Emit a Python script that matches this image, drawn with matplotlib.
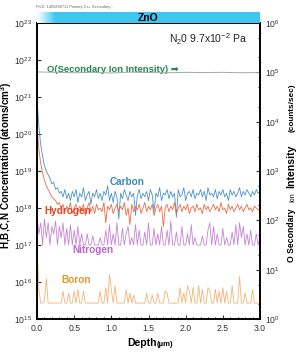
import numpy as np
import matplotlib
matplotlib.use("Agg")
import matplotlib.pyplot as plt
from matplotlib.ticker import MultipleLocator, NullFormatter, LogFormatterSciNotation

plt.rcParams['font.family'] = ['Liberation Sans', 'DejaVu Sans']
plt.rcParams['mathtext.fontset'] = 'custom'
plt.rcParams['mathtext.rm'] = 'Liberation Sans'
plt.rcParams['mathtext.it'] = 'Liberation Sans:italic'
plt.rcParams['mathtext.bf'] = 'Liberation Sans:bold'

# depth grid of the profile (um), 0.025 um sampling step
step = 0.025
depth = np.arange(121) * step

# log10 concentrations (atoms/cm3)
carbon_log = [21.0, 20.2, 19.7, 19.4, 19.15, 19.0, 18.9, 18.8, 18.65, 18.7,
              18.5, 18.55, 18.4, 18.45, 18.3, 18.5, 18.25, 18.4,
              18.2, 18.45, 18.3, 18.5, 18.15, 18.4, 18.3, 18.55, 18.2, 18.35,
              18.45, 18.1, 18.4, 18.3, 18.5, 18.25, 18.4, 18.2, 18.45, 18.35,
              18.6, 18.2, 18.4, 18.15, 18.45, 18.3, 17.7, 18.4, 18.25, 18.5,
              18.35, 18.2, 18.45, 18.3, 18.4, 17.8, 18.35, 18.5, 18.25, 18.4,
              18.3, 18.45, 18.2, 18.5, 18.35, 17.9, 18.4, 18.3, 18.55, 18.2,
              18.4, 18.35, 18.5, 18.25, 18.45, 18.3, 18.4, 17.75, 18.5, 18.3,
              18.35, 18.55, 18.2, 18.4, 18.45, 18.3, 18.5, 18.25, 18.4, 18.35,
              18.5, 18.3, 18.45, 18.2, 18.55, 18.35, 18.4, 18.3, 18.5, 18.25,
              18.45, 18.35, 18.5, 18.3, 18.4, 18.2, 18.5, 18.35, 18.45, 18.3,
              18.4, 18.55, 18.3, 18.45, 18.35, 18.5, 18.4, 18.3, 18.45, 18.35,
              18.5, 18.4, 18.45]
hydrogen_log = [20.2, 19.6, 19.2, 18.95, 18.75, 18.6, 18.5, 18.4, 18.3, 18.25,
                18.2, 18.1, 18.15, 18.0,
                18.1, 17.9, 18.05, 17.95, 18.15, 17.85, 18.0, 18.1, 17.9, 18.05,
                17.95, 18.1, 17.8, 18.0, 18.15, 17.9, 18.05, 17.85, 18.1, 17.95,
                18.0, 17.9, 18.15, 17.6, 18.05, 17.95, 18.1, 17.85, 18.0, 18.1,
                17.9, 18.05, 17.95, 18.15, 17.8, 18.0, 17.55, 18.1, 17.9, 18.05,
                17.95, 18.1, 17.85, 18.0, 18.15, 17.9, 18.05, 17.95, 18.1, 17.8,
                18.0, 18.1, 17.9, 18.05, 17.5, 18.0, 18.1, 17.9, 18.05, 17.95,
                18.15, 17.85, 18.0, 18.1, 17.9, 18.05, 17.95, 18.1, 17.85, 18.0,
                18.05, 17.9, 18.1, 17.95, 18.0, 17.85, 18.1, 17.95, 18.05, 17.9,
                18.0, 18.1, 17.95, 18.05, 17.9, 18.15, 17.95, 18.0, 17.85, 18.1,
                17.95, 18.05, 17.9, 18.0, 18.1, 17.95, 18.05, 17.9, 18.0, 18.1,
                17.95, 18.0, 17.9, 18.05, 18.0, 17.95, 18.0]
nitrogen_log = [17.8, 17.3, 17.6, 17.0, 17.7, 17.2, 17.6, 17.0, 17.5, 17.3,
                17.65, 17.0, 17.5, 17.2, 17.6, 17.0, 17.45, 17.0, 17.55, 17.0,
                17.4, 17.0, 17.5, 17.0, 17.3,
                17.0, 17.0, 17.3, 17.0, 17.0, 17.25, 17.0, 17.0, 17.0, 17.2,
                17.0, 17.0,
                17.4, 17.0, 17.55, 17.0, 17.3, 17.0, 17.6, 17.0, 17.0, 17.45,
                17.0, 17.3, 17.5, 17.0, 17.2, 17.0, 17.55, 17.0, 17.4, 17.0,
                17.0, 17.35, 17.0, 17.6, 17.0, 17.0, 17.45, 17.0, 17.3, 17.0,
                17.5, 17.0, 17.0, 17.4, 17.0, 17.65, 17.0, 17.0, 17.35, 17.0,
                17.0, 17.5, 17.0, 17.0, 17.3, 17.0, 17.55, 17.0, 17.2, 17.0,
                17.0, 17.0, 17.25, 17.0, 17.0, 17.4, 17.6, 17.0, 17.5, 17.0,
                17.3, 17.0, 17.0, 17.45, 17.0, 17.2, 17.0, 17.0, 17.35, 17.0,
                17.55, 17.0, 17.6, 17.2, 17.5, 17.0, 17.3, 17.0, 17.4, 17.0,
                17.0, 17.3, 17.0, 17.2]
boron_log = [17.0, 15.8, 15.43, 15.43, 15.5, 16.1, 15.43, 15.43, 15.43, 15.43,
             15.43, 15.43, 15.43, 15.43, 15.75, 15.43, 15.43, 15.7, 15.43, 15.43,
             15.75, 15.43, 15.8, 15.43, 15.43, 15.75, 15.43, 15.43, 15.43, 15.43,
             15.43, 15.43, 15.43, 15.43, 15.75, 15.43, 15.43, 15.85, 15.43, 16.2,
             15.8, 15.43, 15.9, 15.43, 15.43, 15.43, 15.43, 15.43, 15.8, 15.43,
             15.7, 15.43, 15.65, 15.43, 15.43, 15.43, 15.43, 15.43, 15.43, 15.7,
             15.43, 15.43, 15.65, 15.43, 15.43, 15.7, 15.43, 15.43, 15.43, 15.75,
             15.7, 15.43, 15.43, 15.43, 15.43, 15.43, 15.43, 15.85, 15.43, 15.7,
             15.43, 15.9, 15.75, 15.43, 15.85, 15.43, 15.43, 15.9, 15.43, 15.8,
             15.43, 15.43, 15.85, 15.75, 15.43, 15.43, 15.8, 15.43, 15.75, 15.43,
             15.85, 15.43, 15.75, 15.43, 15.43, 15.9, 15.43, 15.43, 15.43, 16.15,
             15.43, 15.43, 15.7, 15.43, 15.43, 15.43, 15.8, 15.43, 15.43, 15.43,
             15.43]

# O secondary ion intensity (counts/sec)
o_depth = [0.0, 0.25, 0.5, 0.75, 1.0, 1.25, 1.5, 1.75, 2.0, 2.25, 2.5, 2.75, 3.0]
o_counts = [1.02e5, 1.0e5, 0.98e5, 1.0e5, 0.97e5, 1.01e5, 0.99e5, 0.98e5,
            1.0e5, 0.99e5, 1.0e5, 0.98e5, 0.99e5]

left_ticks = [1e15, 1e16, 1e17, 1e18, 1e19, 1e20, 1e21, 1e22, 1e23]
right_ticks = [1e0, 1e1, 1e2, 1e3, 1e4, 1e5, 1e6]

fig = plt.figure(figsize=(2.97, 3.54), dpi=100)
ax = fig.add_axes([0.1246, 0.0989, 0.7508, 0.8361])

ax.plot(depth, 10 ** np.array(boron_log), color='#f5b475', lw=0.6)
ax.plot(depth, 10 ** np.array(nitrogen_log), color='#c684d4', lw=0.6)
ax.plot(depth, 10 ** np.array(carbon_log), color='#4b93c9', lw=0.6)
ax.plot(depth, 10 ** np.array(hydrogen_log), color='#f06a45', lw=0.6)

ax.set_yscale('log')
ax.set_ylim(1e15, 1e23)
ax.set_xlim(0, 3.0)
ax.xaxis.set_major_locator(MultipleLocator(0.5))
ax.xaxis.set_minor_locator(MultipleLocator(0.1))
ax.xaxis.set_major_formatter(plt.FuncFormatter(lambda v, p: f"{v:.1f}"))
ax.set_yticks(left_ticks)
ax.set_yticks([], minor=True)
ax.yaxis.set_major_formatter(LogFormatterSciNotation())
ax.tick_params(labelsize=6.2, length=3, width=0.8, direction='in', colors='#333333')
ax.tick_params(which='minor', length=1.5, width=0.6, direction='in')
for s in ax.spines.values():
    s.set_linewidth(1.2)

ax2 = ax.twinx()
ax2.plot(o_depth, o_counts, color='#a0a8a0', lw=0.7)
ax2.set_yscale('log')
ax2.set_ylim(1, 1e6)
ax2.set_yticks(right_ticks)
ax2.set_yticks([m * t for t in right_ticks[:-1] for m in (2, 5)], minor=True)
ax2.yaxis.set_major_formatter(LogFormatterSciNotation())
ax2.yaxis.set_minor_formatter(NullFormatter())
ax2.tick_params(labelsize=6.2, length=3, width=0.8, direction='in', colors='#333333')
ax2.tick_params(which='minor', length=1.5, width=0.6, direction='in')
for s in ax2.spines.values():
    s.set_linewidth(1.2)

# series labels
ax.text(1.21, 10 ** 18.7, 'Carbon', color='#3a88c0', fontsize=7.2, fontweight='bold', ha='center', va='center')
ax.text(0.42, 10 ** 17.92, 'Hydrogen', color='#e8431e', fontsize=7.2, fontweight='bold', ha='center', va='center')
ax.text(0.75, 10 ** 16.86, 'Nitrogen', color='#c063c4', fontsize=7.2, fontweight='bold', ha='center', va='center')
ax.text(0.53, 10 ** 16.05, 'Boron', color='#f0922a', fontsize=7.2, fontweight='bold', ha='center', va='center')
ax.text(0.13, 10 ** 21.75, 'O(Secondary Ion Intensity) \u27a1', color='#1e8a4c',
        fontsize=6.8, fontweight='bold', ha='left', va='center')
ax.text(2.83, 10 ** 22.57, 'N$_2$0 9.7x10$^{-2}$ Pa', color='#222222', fontsize=7.5,
        ha='right', va='center')

# axis labels
fig.text(0.43, 0.022, 'Depth', fontsize=7.5, fontweight='bold', ha='left', va='baseline')
fig.text(0.527, 0.022, '(\u00b5m)', fontsize=5.5, fontweight='bold', ha='left', va='baseline')
fig.text(0.022, 0.534, 'H,B,C,N Concentration (atoms/cm$^\\mathbf{3}$)', fontsize=7.1, fontweight='bold',
         rotation=90, ha='center', va='center')

bx = 0.99
fig.text(bx, 0.26, 'O Secondary', fontsize=6.2, fontweight='bold', rotation=90,
         rotation_mode='anchor', ha='left', va='baseline')
fig.text(bx, 0.428, 'Ion', fontsize=5.0, rotation=90,
         rotation_mode='anchor', ha='left', va='baseline')
fig.text(bx, 0.47, 'Intensity', fontsize=7.6, fontweight='bold', rotation=90,
         rotation_mode='anchor', ha='left', va='baseline')
fig.text(bx, 0.626, '(counts/sec)', fontsize=5.9, fontweight='bold', rotation=90,
         rotation_mode='anchor', ha='left', va='baseline')

# layer bar on top
bar = fig.add_axes([0.1246, 0.935, 0.7508, 0.031])
grad = np.ones((1, 200, 3))
cyan = np.array([0.25, 0.78, 0.94])
ramp = np.clip(np.linspace(0, 1, 200) / 0.08, 0, 1)
for k in range(3):
    grad[0, :, k] = 1 - ramp * (1 - cyan[k])
bar.imshow(grad, aspect='auto', extent=(0, 1, 0, 1))
bar.set_xlim(0, 1)
bar.set_ylim(0, 1)
bar.axis('off')
bar.text(0.5, 0.45, 'ZnO', fontsize=7.5, fontweight='bold', ha='center', va='center')

fig.text(0.12, 0.98, 'FILE: 1400849711 Primary:Cs+ Secondary:-', fontsize=2.8,
         color='#666666', ha='left', va='center')

fig.savefig('out.png', dpi=100)
